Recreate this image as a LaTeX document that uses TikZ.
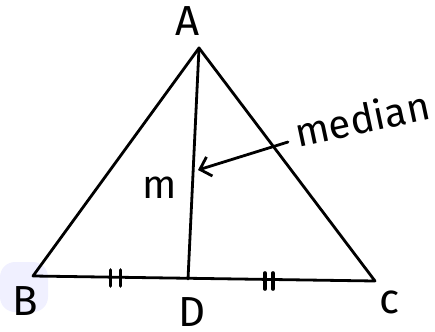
\documentclass[tikz,border=0pt]{standalone}
\usepackage{fontspec}
\setmainfont{Fira Sans}
\usetikzlibrary{arrows.meta}
\begin{document}
\begin{tikzpicture}[x=1pt,y=-1pt,
  edge/.style={line width=2.8pt,line join=round,line cap=round},
  tick/.style={line width=3.6pt,line cap=round},
  lbl/.style={font=\fontsize{42}{42}\selectfont,inner sep=0pt},
  hand/.style={font=\fontsize{40}{40}\selectfont,inner sep=0pt}]
\useasboundingbox (0,0) rectangle (435,331);
\fill[blue!6,rounded corners=15pt] (0,262) rectangle (48,312);
\coordinate (A) at (199,48);
\coordinate (B) at (33,276);
\coordinate (C) at (375,281);
\coordinate (D) at (188,279);
\draw[edge] (B) -- (A) -- (C) -- cycle;
\draw[edge] (A) -- (D);
\coordinate (t1) at (115.5,278);
\coordinate (t2) at (269,281);
\draw[tick] ([xshift=-5pt,yshift=-8pt]t1) -- ([xshift=-5pt,yshift=8pt]t1);
\draw[tick] ([xshift=5pt,yshift=-8pt]t1) -- ([xshift=5pt,yshift=8pt]t1);
\draw[tick] ([xshift=-4pt,yshift=-8pt]t2) -- ([xshift=-4pt,yshift=8pt]t2);
\draw[tick] ([xshift=4pt,yshift=-8pt]t2) -- ([xshift=4pt,yshift=8pt]t2);
\node[lbl] (la) at (188,21) {A};
\node[lbl] (lb) at (25,301) {B};
\node[lbl] (ld) at (192,312) {D};
\node[lbl] (lc) at (390,302) {c};
\node[hand] (m) at (160,188) {m};
\node[hand,rotate=12] (med) at (362,118) {median};
\coordinate (start) at (288,142);
\coordinate (tip) at (198,170);
\draw[edge,-{Straight Barb[length=10pt,width=20pt]}] (start) -- (tip);
\end{tikzpicture}
\end{document}
